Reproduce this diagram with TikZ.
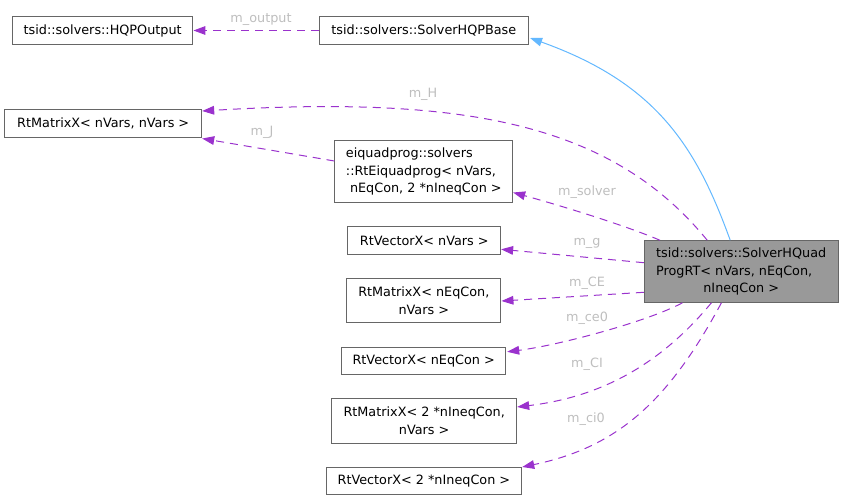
\documentclass[tikz,border=0pt]{standalone}
\usepackage{fontspec}
\setmainfont{DejaVu Sans}
\usetikzlibrary{arrows.meta,calc}
\definecolor{edgep}{HTML}{9A32CD}
\definecolor{inh}{HTML}{63B8FF}
\definecolor{lbl}{HTML}{BEBEBE}
\definecolor{bord}{HTML}{666666}
\definecolor{mainfill}{HTML}{999999}
\begin{document}
\begin{tikzpicture}[x=0.75pt,y=-0.75pt,
  font=\fontsize{9.6}{13.2}\selectfont,
  box/.style={draw=bord,line width=0.75pt,fill=white,inner sep=0pt,minimum height=20.6pt},
  two/.style={minimum height=33.5pt},
  three/.style={minimum height=46.2pt},
  rel/.style={edgep,line width=0.75pt,dash pattern=on 6pt off 4.5pt,-{Triangle[length=9pt,width=6.5pt]}},
  inhe/.style={inh,line width=0.75pt,-{Triangle[length=9pt,width=6.5pt]}},
  lab/.style={lbl,anchor=base,inner sep=0pt}]
\useasboundingbox (0,0) rectangle (844,500);

% nodes
\node[box,minimum width=135.4pt] (out) at (102.7,30.5) {tsid::solvers::HQPOutput};
\node[box,minimum width=157.2pt] (base) at (423.8,30.5) {tsid::solvers::SolverHQPBase};
\node[box,minimum width=147.75pt] (mvv) at (103.2,123.3) {RtMatrixX< nVars, nVars >};
\node[box,three,minimum width=133.3pt,align=left] (eiq) at (423.8,171.5)
  {eiquadprog::solvers\\::RtEiquadprog< nVars,\\\hspace*{0.32em}nEqCon, 2 *nIneqCon >};
\node[box,minimum width=114.5pt] (vv) at (424.3,240.5) {RtVectorX< nVars >};
\node[box,two,minimum width=115.7pt,align=center] (meq) at (423.8,300.5) {RtMatrixX< nEqCon,\\nVars >};
\node[box,minimum width=123pt] (veq) at (423.7,360.8) {RtVectorX< nEqCon >};
\node[box,two,minimum width=138.75pt,align=center] (mineq) at (424.2,421) {RtMatrixX< 2 *nIneqCon,\\nVars >};
\node[box,minimum width=146.8pt] (vineq) at (423.9,480.8) {RtVectorX< 2 *nIneqCon >};
\node[box,three,fill=mainfill,minimum width=145.3pt] (main) at (741.2,271.5)
  {\begin{tabular}{@{}l@{}}tsid::solvers::SolverHQuad\\ProgRT< nVars, nEqCon,\\\multicolumn{1}{@{}c@{}}{nIneqCon >}\end{tabular}};

% connectors
\draw[rel] (base.west) -- (out.east);
\draw[inhe] ($(main.north)+(-11,0)$) .. controls +(-34,-94) and +(126,45) .. ($(base.east)+(1,7.5)$);
\draw[rel] ($(main.north)+(-34,0)$) .. controls +(-94.5,-115.5) and +(265.6,-16) .. ($(mvv.east)+(0,-12.3)$);
\draw[rel] ($(eiq.west)+(0,-10.5)$) -- ($(mvv.south east)+(0,1)$);
\draw[rel] ($(main.north west)+(16,0)$) .. controls +(-35,-15) and +(47,13) .. ($(eiq.south east)+(0,-10.3)$);
\draw[rel] ($(main.west)+(0,-8.8)$) -- ($(vv.east)+(0,8.8)$);
\draw[rel] ($(main.west)+(0,20.8)$) -- ($(meq.east)+(0,0.5)$);
\draw[rel] ($(main.south west)+(38.6,0)$) .. controls +(-33,18) and +(53,-6.7) .. ($(veq.east)+(1,-9)$);
\draw[rel] ($(main.south west)+(67.6,0)$) .. controls +(-52,62.7) and +(83,-10) .. ($(mineq.east)+(0,-14)$);
\draw[rel] ($(main.south west)+(77.6,0)$) .. controls +(-52.5,97.7) and +(96,-20) .. ($(vineq.east)+(0,-13.8)$);

% labels
\node[lab] (l1) at (261,22) {m\_output};
\node[lab] (l2) at (423,97.5) {m\_H};
\node[lab] (l3) at (262,135) {m\_J};
\node[lab] (l4) at (587,195.5) {m\_solver};
\node[lab] (l5) at (587,245.5) {m\_g};
\node[lab] (l6) at (587,286.5) {m\_CE};
\node[lab] (l7) at (587,321.5) {m\_ce0};
\node[lab] (l8) at (587,367) {m\_CI};
\node[lab] (l9) at (586,422) {m\_ci0};
\end{tikzpicture}
\end{document}
